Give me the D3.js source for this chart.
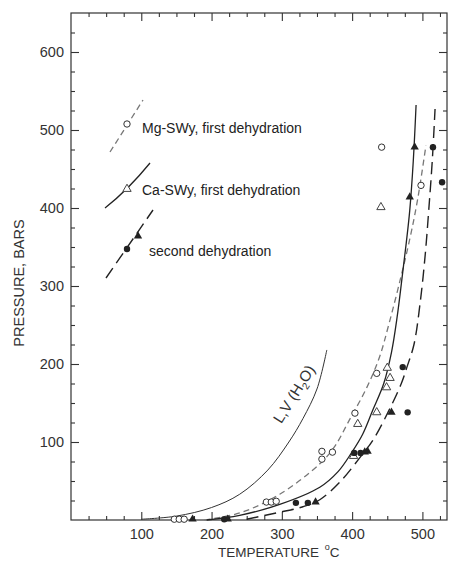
<!DOCTYPE html>
<html>
<head>
<meta charset="utf-8">
<script src="https://cdn.jsdelivr.net/npm/d3@7"></script>
<style>
  body { margin: 0; background: #fff; }
  svg { display: block; font-family: "Liberation Sans", Arial, Helvetica, sans-serif; }
  .axis path { display: none; }
  .axis line { stroke: #333; stroke-width: 1.1; }
  .axis text { font-size: 14.5px; fill: #333; }
</style>
</head>
<body>
<svg id="chart"></svg>
<script>
// L,V curve of water (T in degC, P in bars)
const lvT = [100, 150, 200, 240, 280, 310, 330, 350, 364];
const lvP = [1, 5, 16, 33, 64, 100, 130, 168, 218];

// Mg-SWy, first dehydration (fitted curve + observed points)
const mgT = [190, 240, 297, 354, 375, 396, 421, 439, 452, 469, 482, 493, 505];
const mgP = [0, 9, 33, 72, 94, 128, 170, 209, 250, 310, 360, 410, 480];
const mgPtT = [147, 154, 161, 278, 285, 292, 357, 357, 372, 404, 435, 442, 498];
const mgPtP = [1, 1, 1, 23, 23, 24, 88, 78, 87, 137, 188, 478, 429];

// Ca-SWy, first dehydration
const caT = [193, 240, 297, 354, 380, 399, 415, 429, 445, 456, 464, 471, 477, 482, 487, 491];
const caP = [0, 6, 20, 42, 62, 86, 110, 140, 175, 215, 260, 310, 355, 397, 460, 532];
const caPtT = [402, 408, 435, 449, 450, 454, 441];
const caPtP = [82, 123, 138, 170, 195, 182, 401];

// second dehydration (circles = Mg, triangles = Ca)
const seT = [250, 297, 330, 354, 382, 411, 430, 451, 470, 478, 488, 497, 504, 509, 514, 518];
const seP = [1, 10, 17, 26, 48, 80, 103, 138, 175, 196, 225, 280, 340, 397, 460, 527];
const seCirT = [218, 320, 337, 403, 412, 472, 479, 515, 528];
const seCirP = [1, 22, 22, 86, 86, 196, 138, 478, 433];
const seTriT = [173, 223, 348, 418, 422, 456, 482, 489];
const seTriP = [1, 1, 23, 87, 88, 138, 414, 478];

const xTicks = [100, 200, 300, 400, 500];
const yTicks = [100, 200, 300, 400, 500, 600];

const W = 455, H = 567;
const margin = { left: 71, right: 447, top: 13, bottom: 520 };

const svg = d3.select('#chart').attr('width', W).attr('height', H);

const x = d3.scaleLinear().domain([0, 535]).range([margin.left, margin.right]);
const y = d3.scaleLinear().domain([0, 650]).range([margin.bottom, margin.top]);

const minorX = d3.range(25, 535, 25).filter(d => d % 100 !== 0);
const minorY = d3.range(25, 650, 25).filter(d => d % 100 !== 0);

// frame
svg.append('rect')
    .attr('x', margin.left).attr('y', margin.top)
    .attr('width', margin.right - margin.left).attr('height', margin.bottom - margin.top)
    .attr('fill', 'none').attr('stroke', '#333').attr('stroke-width', 1.2);

// ticks on all four sides, pointing inward
function addAxis(axisFn, scale, pos, labels) {
    const g = svg.append('g').attr('class', 'axis').attr('transform', pos);
    g.call(axisFn(scale).tickValues(scale === x ? minorX : minorY).tickSize(-4).tickFormat(''));
    const g2 = svg.append('g').attr('class', 'axis').attr('transform', pos);
    const ax = axisFn(scale).tickValues(scale === x ? xTicks : yTicks).tickSize(-8);
    if (labels) ax.tickPadding(scale === x ? 9 : 7);
    else ax.tickFormat('');
    g2.call(ax);
}
addAxis(d3.axisBottom, x, `translate(0,${margin.bottom})`, true);
addAxis(d3.axisTop, x, `translate(0,${margin.top})`, false);
addAxis(d3.axisLeft, y, `translate(${margin.left},0)`, true);
addAxis(d3.axisRight, y, `translate(${margin.right},0)`, false);

// axis titles
svg.append('text')
    .attr('transform', `translate(24,283) rotate(-90)`)
    .attr('text-anchor', 'middle')
    .attr('font-size', 14.5).attr('fill', '#333')
    .text('PRESSURE, BARS');

const xt = svg.append('text')
    .attr('x', 218).attr('y', 557)
    .attr('font-size', 13.5).attr('fill', '#333');
xt.append('tspan').text('TEMPERATURE ');
xt.append('tspan').attr('font-size', 9).attr('dy', -7).attr('dx', 2).text('o');
xt.append('tspan').attr('dy', 7).text('C');

// curves
const line = d3.line()
    .x(d => x(d[0])).y(d => y(d[1]))
    .curve(d3.curveCatmullRom.alpha(0.5));

svg.append('path').datum(d3.zip(lvT, lvP))
    .attr('d', line).attr('fill', 'none')
    .attr('stroke', '#333').attr('stroke-width', 1);

svg.append('path').datum(d3.zip(mgT, mgP))
    .attr('d', line).attr('fill', 'none')
    .attr('stroke', '#777').attr('stroke-width', 1.3)
    .attr('stroke-dasharray', '6,4');

svg.append('path').datum(d3.zip(caT, caP))
    .attr('d', line).attr('fill', 'none')
    .attr('stroke', '#222').attr('stroke-width', 1.3);

svg.append('path').datum(d3.zip(seT, seP))
    .attr('d', line).attr('fill', 'none')
    .attr('stroke', '#222').attr('stroke-width', 1.4)
    .attr('stroke-dasharray', '12,6');

// L,V (H2O) label
const lv = svg.append('text')
    .attr('transform', 'translate(294,394) rotate(-58)')
    .attr('text-anchor', 'middle').attr('dy', '0.35em')
    .attr('font-size', 15).attr('fill', '#333');
lv.append('tspan').text('L,V (H');
lv.append('tspan').attr('font-size', 10).attr('dy', 4).text('2');
lv.append('tspan').attr('dy', -4).text('O)');

// markers
const tri = d3.symbol(d3.symbolTriangle, 30);

svg.append('g').selectAll('circle')
    .data(d3.zip(mgPtT, mgPtP)).join('circle')
    .attr('cx', d => x(d[0])).attr('cy', d => y(d[1])).attr('r', 3.2)
    .attr('fill', '#fff').attr('stroke', '#333').attr('stroke-width', 1);

svg.append('g').selectAll('path')
    .data(d3.zip(caPtT, caPtP)).join('path')
    .attr('d', tri)
    .attr('transform', d => `translate(${x(d[0])},${y(d[1])})`)
    .attr('fill', '#fff').attr('stroke', '#444').attr('stroke-width', 1);

svg.append('g').selectAll('circle')
    .data(d3.zip(seCirT, seCirP)).join('circle')
    .attr('cx', d => x(d[0])).attr('cy', d => y(d[1])).attr('r', 3.2)
    .attr('fill', '#222');

svg.append('g').selectAll('path')
    .data(d3.zip(seTriT, seTriP)).join('path')
    .attr('d', tri)
    .attr('transform', d => `translate(${x(d[0])},${y(d[1])})`)
    .attr('fill', '#222');

// legend
const leg = svg.append('g').attr('font-size', 14).attr('fill', '#222');

leg.append('line')
    .attr('x1', 110).attr('y1', 152).attr('x2', 143).attr('y2', 100)
    .attr('stroke', '#777').attr('stroke-width', 1.3).attr('stroke-dasharray', '6,4');
leg.append('circle').attr('cx', 127).attr('cy', 124).attr('r', 3.2)
    .attr('fill', '#fff').attr('stroke', '#333');
leg.append('text').attr('x', 142).attr('y', 133).text('Mg-SWy, first dehydration');

leg.append('path')
    .attr('d', 'M105,208 Q128,190 150,163')
    .attr('fill', 'none').attr('stroke', '#222').attr('stroke-width', 1.3);
leg.append('path').attr('d', tri)
    .attr('transform', 'translate(127,189)')
    .attr('fill', '#fff').attr('stroke', '#444');
leg.append('text').attr('x', 142).attr('y', 195).text('Ca-SWy, first dehydration');

leg.append('line')
    .attr('x1', 106).attr('y1', 278).attr('x2', 153).attr('y2', 210)
    .attr('stroke', '#222').attr('stroke-width', 1.4).attr('stroke-dasharray', '12,6');
leg.append('circle').attr('cx', 127).attr('cy', 249).attr('r', 3.2).attr('fill', '#222');
leg.append('path').attr('d', tri)
    .attr('transform', 'translate(138,236)').attr('fill', '#222');
leg.append('text').attr('x', 149).attr('y', 256).text('second dehydration');
</script>
</body>
</html>
